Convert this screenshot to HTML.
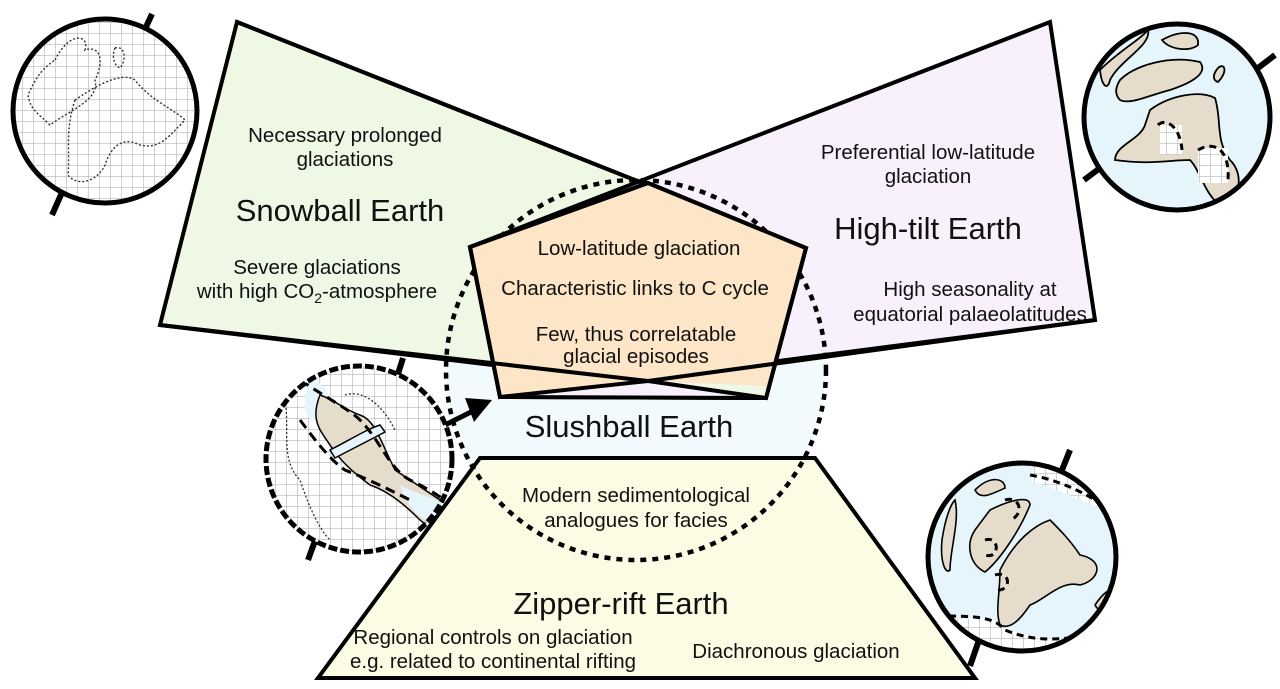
<!DOCTYPE html>
<html><head><meta charset="utf-8"><style>
html,body{margin:0;padding:0;background:#fff}
svg{display:block}
text{font-family:"Liberation Sans",Arial,sans-serif;fill:#111;text-anchor:middle}
.s{font-size:20.5px}
.b{font-size:31px}
</style></head><body>
<svg width="1280" height="689" viewBox="0 0 1280 689" xmlns="http://www.w3.org/2000/svg">
<defs>
<pattern id="grid" width="11" height="11" patternUnits="userSpaceOnUse">
<rect width="11" height="11" fill="#fff"/>
<path d="M0 0H11M0 0V11" stroke="#b8b8b8" stroke-width="1.3"/>
</pattern>
<clipPath id="c1"><circle cx="105" cy="111" r="92"/></clipPath>
<clipPath id="c2"><circle cx="359" cy="459" r="93"/></clipPath>
<clipPath id="c3"><circle cx="1177" cy="117" r="93"/></clipPath>
<clipPath id="c4"><circle cx="1022" cy="557" r="94"/></clipPath>
</defs>

<circle cx="636" cy="370" r="190" fill="#f2fafd"/>

<polygon points="237,22 160,325 766,398 806,248" fill="#eff7e5" stroke="#000" stroke-width="4"/>
<polygon points="1050,22 1095,320 500,397 470,247" fill="#f8f1fc" stroke="#000" stroke-width="4"/>
<polyline points="237,22 806,248" fill="none" stroke="#000" stroke-width="4"/>

<polygon points="480,458 815,458 975,678 318,678" fill="#fcfce4" stroke="#000" stroke-width="4"/>

<circle cx="636" cy="370" r="190" fill="none" stroke="#000" stroke-width="4.5" stroke-dasharray="6,6"/>

<polygon points="648,183 806,248 766,398 500,397 470,247" fill="#fde6c7" stroke="#000" stroke-width="4"/>
<polygon points="500,397 648,381 766,398" fill="#f8f1fc"/>
<polygon points="648,381 766,398 766,386" fill="#eff7e5"/>
<polyline points="160,325 648,381 766,398" fill="none" stroke="#000" stroke-width="4"/>
<polyline points="500,397 648,381 1095,320" fill="none" stroke="#000" stroke-width="4"/>
<polygon points="648,183 806,248 766,398 500,397 470,247" fill="none" stroke="#000" stroke-width="4"/>

<line x1="445" y1="425" x2="475" y2="410" stroke="#000" stroke-width="5"/>
<polygon points="492,400 465,398 474,422" fill="#000"/>

<line x1="152" y1="14" x2="140" y2="40" stroke="#000" stroke-width="6"/>
<line x1="52" y1="215" x2="64" y2="188" stroke="#000" stroke-width="6"/>
<g clip-path="url(#c1)">
<rect x="10" y="15" width="200" height="200" fill="url(#grid)"/>
<path d="M55 60 C70 30 90 35 85 50 C100 45 105 60 95 80 C100 100 70 110 50 125 C40 115 30 110 28 95 C35 80 40 70 55 60Z M75 100 C90 90 120 70 135 80 C150 100 175 110 185 120 C170 135 160 150 140 145 C120 135 110 150 105 165 C95 185 75 185 68 175 C70 150 65 130 75 100Z M115 48 C125 45 127 60 120 68 C113 65 112 55 115 48Z" fill="none" stroke="#333" stroke-width="1.4" stroke-dasharray="2,2"/>
</g>
<circle cx="105" cy="111" r="92" fill="none" stroke="#000" stroke-width="5"/>

<line x1="403" y1="358" x2="396" y2="380" stroke="#000" stroke-width="6"/>
<line x1="308" y1="560" x2="316" y2="538" stroke="#000" stroke-width="6"/>
<g clip-path="url(#c2)">
<rect x="260" y="360" width="200" height="200" fill="url(#grid)"/>
<path d="M310 380 C330 385 335 400 320 420 C305 425 300 405 310 380Z" fill="#e6f4fc"/>
<path d="M320 395 C335 400 345 410 360 415 C375 420 380 440 395 470 C410 480 425 490 440 500 C445 520 430 530 420 520 C400 500 385 490 370 485 C350 470 340 460 330 445 C320 430 310 420 320 395Z" fill="#e6dccb" stroke="#000" stroke-width="1.5"/>
<path d="M330 450 C350 440 365 430 380 425 L385 432 C370 440 350 450 335 458Z" fill="#e6f4fc" stroke="#000" stroke-width="1.5"/>
<path d="M400 485 C420 495 440 500 450 505 L435 525 C420 520 405 505 400 485Z" fill="#e6f4fc"/>
<path d="M300 380 C330 400 350 410 360 420 C380 440 390 470 410 480 C430 490 450 500 455 515 M300 420 C315 440 330 460 345 470 C370 480 390 490 410 500" fill="none" stroke="#000" stroke-width="3" stroke-dasharray="10,6"/>
<path d="M285 400 C290 430 280 460 300 480 C310 510 320 530 330 540 M345 395 C360 390 380 400 395 430" fill="none" stroke="#333" stroke-width="1.3" stroke-dasharray="2,2"/>
</g>
<circle cx="359" cy="459" r="93" fill="none" stroke="#000" stroke-width="5" stroke-dasharray="9,3"/>

<line x1="1275" y1="55" x2="1258" y2="68" stroke="#000" stroke-width="6"/>
<line x1="1084" y1="180" x2="1100" y2="168" stroke="#000" stroke-width="6"/>
<g clip-path="url(#c3)">
<rect x="1080" y="20" width="200" height="200" fill="#e6f4fc"/>
<path d="M1100 70 C1120 50 1140 40 1148 30 C1152 45 1120 60 1110 80 C1108 90 1102 88 1100 70Z" fill="#e6dccb" stroke="#000" stroke-width="1.8"/>
<path d="M1162 40 C1180 30 1200 30 1198 45 C1190 52 1170 50 1162 40Z" fill="#e6dccb" stroke="#000" stroke-width="1.8"/>
<path d="M1120 80 C1135 65 1170 55 1200 62 C1210 75 1185 85 1170 90 C1150 95 1130 105 1120 100 C1115 95 1115 88 1120 80Z" fill="#e6dccb" stroke="#000" stroke-width="1.8"/>
<path d="M1218 68 C1225 62 1228 72 1218 82 C1212 80 1213 74 1218 68Z" fill="#e6dccb" stroke="#000" stroke-width="1.8"/>
<path d="M1150 110 C1170 95 1200 90 1215 98 C1222 120 1215 140 1230 160 C1245 175 1240 200 1220 205 C1205 195 1200 170 1190 160 C1170 160 1150 165 1115 160 C1115 145 1140 140 1145 125Z" fill="#e6dccb" stroke="#000" stroke-width="1.8"/>
<rect x="1160" y="125" width="22" height="30" fill="url(#grid)"/>
<rect x="1198" y="148" width="30" height="35" fill="url(#grid)"/>
<path d="M1158 125 C1165 118 1180 125 1182 150 M1198 150 C1215 140 1230 150 1228 180" fill="none" stroke="#000" stroke-width="3" stroke-dasharray="7,5"/>
</g>
<circle cx="1177" cy="117" r="93" fill="none" stroke="#000" stroke-width="5"/>

<line x1="1070" y1="450" x2="1060" y2="475" stroke="#000" stroke-width="6"/>
<line x1="970" y1="666" x2="979" y2="640" stroke="#000" stroke-width="6"/>
<g clip-path="url(#c4)">
<rect x="925" y="460" width="200" height="200" fill="#e6f4fc"/>
<path d="M1035 462 L1120 490 L1120 515 C1090 505 1060 490 1030 480Z" fill="url(#grid)"/>
<path d="M925 620 L990 618 C1020 640 1050 640 1120 640 L1120 660 L925 660Z" fill="url(#grid)"/>
<path d="M975 490 C990 475 1005 478 1005 488 C990 495 980 500 975 490Z" fill="#e6dccb" stroke="#000" stroke-width="1.6"/>
<path d="M955 500 C960 520 950 550 950 570 C945 575 940 560 942 540 C945 520 950 505 955 500Z" fill="#e6dccb" stroke="#000" stroke-width="1.6"/>
<path d="M990 510 C1010 500 1030 495 1030 505 C1020 530 1000 560 985 572 C970 565 965 545 975 530Z" fill="#e6dccb" stroke="#000" stroke-width="1.6"/>
<path d="M1000 570 C1015 540 1035 525 1050 520 C1060 530 1070 540 1080 555 C1105 560 1100 580 1080 585 C1060 580 1045 600 1030 605 C1020 620 1010 630 1000 625 C995 610 1000 595 1000 570Z" fill="#e6dccb" stroke="#000" stroke-width="1.6"/>
<path d="M1095 605 C1105 590 1115 585 1115 595 C1110 610 1100 615 1095 605Z" fill="#e6dccb" stroke="#000" stroke-width="1.6"/>
<path d="M1030 475 C1060 480 1090 495 1110 510 M925 615 C960 618 990 612 1005 630 C1040 645 1080 640 1115 625 M1005 500 C1020 495 1025 515 1010 520 M985 540 C1000 535 1000 560 985 555 M995 575 C1010 570 1012 590 998 590" fill="none" stroke="#000" stroke-width="3" stroke-dasharray="7,5"/>
</g>
<circle cx="1022" cy="557" r="94" fill="none" stroke="#000" stroke-width="5"/>

<text class="s" x="345" y="142">Necessary prolonged</text>
<text class="s" x="345" y="166">glaciations</text>
<text class="b" x="340" y="221">Snowball Earth</text>
<text class="s" x="317" y="274">Severe glaciations</text>
<text class="s" x="317" y="298">with high CO<tspan font-size="14" dy="5">2</tspan><tspan dy="-5">-atmosphere</tspan></text>

<text class="s" x="928" y="159">Preferential low-latitude</text>
<text class="s" x="928" y="183">glaciation</text>
<text class="b" x="928" y="239">High-tilt Earth</text>
<text class="s" x="970" y="296">High seasonality at</text>
<text class="s" x="970" y="321">equatorial palaeolatitudes</text>

<text class="s" x="639" y="255">Low-latitude glaciation</text>
<text class="s" x="635" y="295">Characteristic links to C cycle</text>
<text class="s" x="636" y="341">Few, thus correlatable</text>
<text class="s" x="636" y="363">glacial episodes</text>

<text class="b" x="629" y="437">Slushball Earth</text>
<text class="s" x="636" y="502">Modern sedimentological</text>
<text class="s" x="636" y="527">analogues for facies</text>

<text class="b" x="621" y="614">Zipper-rift Earth</text>
<text class="s" x="493" y="644">Regional controls on glaciation</text>
<text class="s" x="493" y="668">e.g. related to continental rifting</text>
<text class="s" x="796" y="658">Diachronous glaciation</text>
</svg>
</body></html>
